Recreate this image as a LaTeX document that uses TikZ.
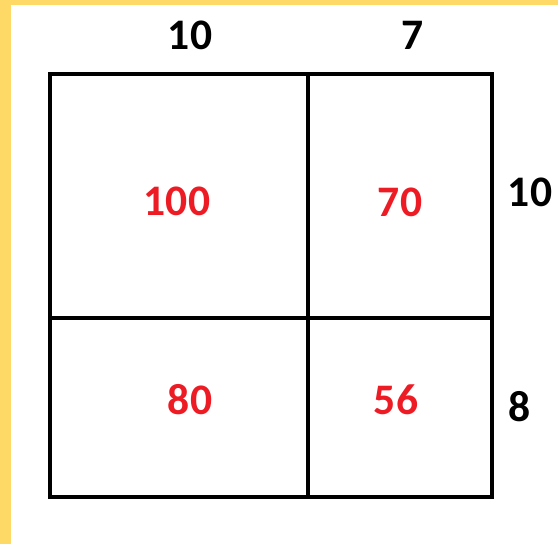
\documentclass[tikz,border=0pt]{standalone}
\usepackage{fontspec}
\setmainfont{Carlito}
\definecolor{Mirojo}{RGB}{237,28,36}
\definecolor{Miamarillo}{RGB}{255,217,102}
\usetikzlibrary{positioning}

\begin{document}
\begin{tikzpicture}[
  rejilla/.style={line width=0.2cm, draw=black},
  lado/.style={font=\fontsize{62}{70}\selectfont\bfseries, text=black, inner sep=0pt},
  area/.style={font=\fontsize{62}{70}\selectfont\bfseries, text=Mirojo, inner sep=0pt}
]
\useasboundingbox (0,0) rectangle (27.9,27.2);

%% Marco amarillo
\fill[Miamarillo] (0,0) rectangle (0.55,27.2);
\fill[Miamarillo] (0,26.95) rectangle (27.9,27.2);

%% Rejilla
\coordinate (so) at (2.5,2.35);
\coordinate (ne) at (24.6,23.5);
\draw[rejilla] (so) rectangle (ne);
\draw[rejilla] (15.4,2.35) -- (15.4,23.5);
\draw[rejilla] (2.5,11.3) -- (24.6,11.3);

%% Lados
\node[lado] (arriba1) at (9.5,25.45) {10};
\node[lado] (arriba2) at (20.65,25.45) {7};
\node[lado] (der1) at (26.5,17.6) {10};
\node[lado] (der2) at (26.0,6.85) {8};

%% Areas
\node[area] (a100) at (8.85,17.15) {100};
\node[area] (a70) at (20.0,17.1) {70};
\node[area] (a80) at (9.5,7.2) {80};
\node[area] (a56) at (19.8,7.2) {56};

\end{tikzpicture}
\end{document}
